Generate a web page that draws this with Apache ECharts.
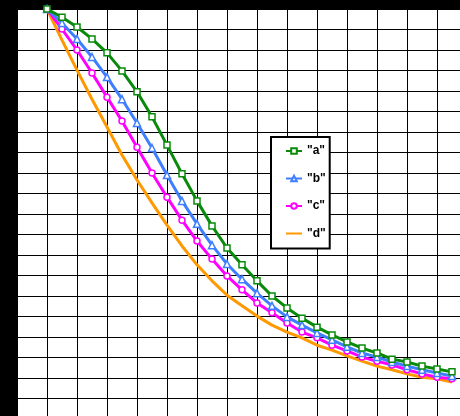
<!DOCTYPE html>
<html>
<head>
<meta charset="utf-8">
<script src="https://cdn.jsdelivr.net/npm/echarts@6/dist/echarts.min.js"></script>
<style>html,body{margin:0;padding:0;background:#000;}#c{width:460px;height:416px;}</style>
</head>
<body>
<div id="c"></div>
<script>
var xValues = [1,1.5,2,2.5,3,3.5,4,4.5,5,5.5,6,6.5,7,7.5,8,8.5,9,9.5,10,10.5,11,11.5,12,12.5,13,13.5,14,14.5];
var seriesNames = ['"a"','"b"','"c"','"d"'];
var aValues = [1.000,0.980,0.956,0.927,0.893,0.849,0.798,0.737,0.668,0.598,0.532,0.471,0.417,0.376,0.337,0.300,0.271,0.246,0.224,0.205,0.188,0.173,0.161,0.146,0.139,0.129,0.122,0.115];
var bValues = [1.000,0.966,0.927,0.883,0.834,0.780,0.722,0.661,0.595,0.532,0.476,0.424,0.378,0.341,0.307,0.276,0.249,0.229,0.210,0.193,0.176,0.161,0.151,0.139,0.129,0.120,0.112,0.105];
var cValues = [1.000,0.951,0.900,0.844,0.785,0.727,0.663,0.600,0.541,0.485,0.434,0.390,0.349,0.315,0.283,0.259,0.234,0.212,0.198,0.180,0.166,0.151,0.141,0.132,0.120,0.110,0.102,0.098];
var dValues = [1.000,0.924,0.851,0.780,0.712,0.644,0.583,0.527,0.473,0.422,0.376,0.337,0.302,0.276,0.251,0.229,0.212,0.198,0.180,0.168,0.154,0.141,0.129,0.120,0.110,0.102,0.098,0.090];

function pairs(vals){ return xValues.map(function(x,i){ return [x, vals[i]]; }); }

var colors = ['#0a8a0a', '#3f7fff', '#ff00ff', '#ff9900'];
var symbols = ['rect', 'triangle', 'circle', 'none'];
var allValues = [aValues, bValues, cValues, dValues];

var chart = echarts.init(document.getElementById('c'), null, {renderer: 'canvas'});
var series = allValues.map(function(vals, i){
  return {
    name: seriesNames[i],
    type: 'line',
    data: pairs(vals),
    symbol: symbols[i],
    symbolSize: i === 1 ? 7 : 6,
    showSymbol: symbols[i] !== 'none',
    lineStyle: {color: colors[i], width: 3},
    itemStyle: {color: '#fff', borderColor: colors[i], borderWidth: 1.5},
    z: 10 - i,
    animation: false
  };
});

var legendData = seriesNames.map(function(n, i){
  var item = {name: n};
  if (symbols[i] === 'none') {
    item.itemStyle = {color: 'rgba(0,0,0,0)', borderColor: 'rgba(0,0,0,0)', borderWidth: 0};
  }
  return item;
});

chart.setOption({
  backgroundColor: '#000',
  animation: false,
  grid: {left: 17, top: 9, width: 450, height: 410, outerBoundsMode: 'none', containLabel: false, show: true, backgroundColor: '#fff', borderWidth: 0},
  xAxis: {
    type: 'value', min: 0, max: 15, interval: 1,
    axisLine: {show: false}, axisTick: {show: false}, axisLabel: {show: false},
    splitLine: {show: true, lineStyle: {color: '#000', width: 1}}
  },
  yAxis: {
    type: 'value', min: 0, max: 1, interval: 0.05,
    axisLine: {show: false}, axisTick: {show: false}, axisLabel: {show: false},
    splitLine: {show: true, lineStyle: {color: '#000', width: 1}}
  },
  legend: {
    data: legendData,
    orient: 'vertical',
    left: 271, top: 137,
    padding: [8, 4, 9, 14],
    itemWidth: 16, itemHeight: 7, itemGap: 15.5,
    backgroundColor: '#fff',
    borderColor: '#000', borderWidth: 2,
    textStyle: {color: '#000', fontFamily: 'Liberation Sans', fontSize: 12, fontWeight: 'bold'}
  },
  series: series
});
</script>
</body>
</html>
